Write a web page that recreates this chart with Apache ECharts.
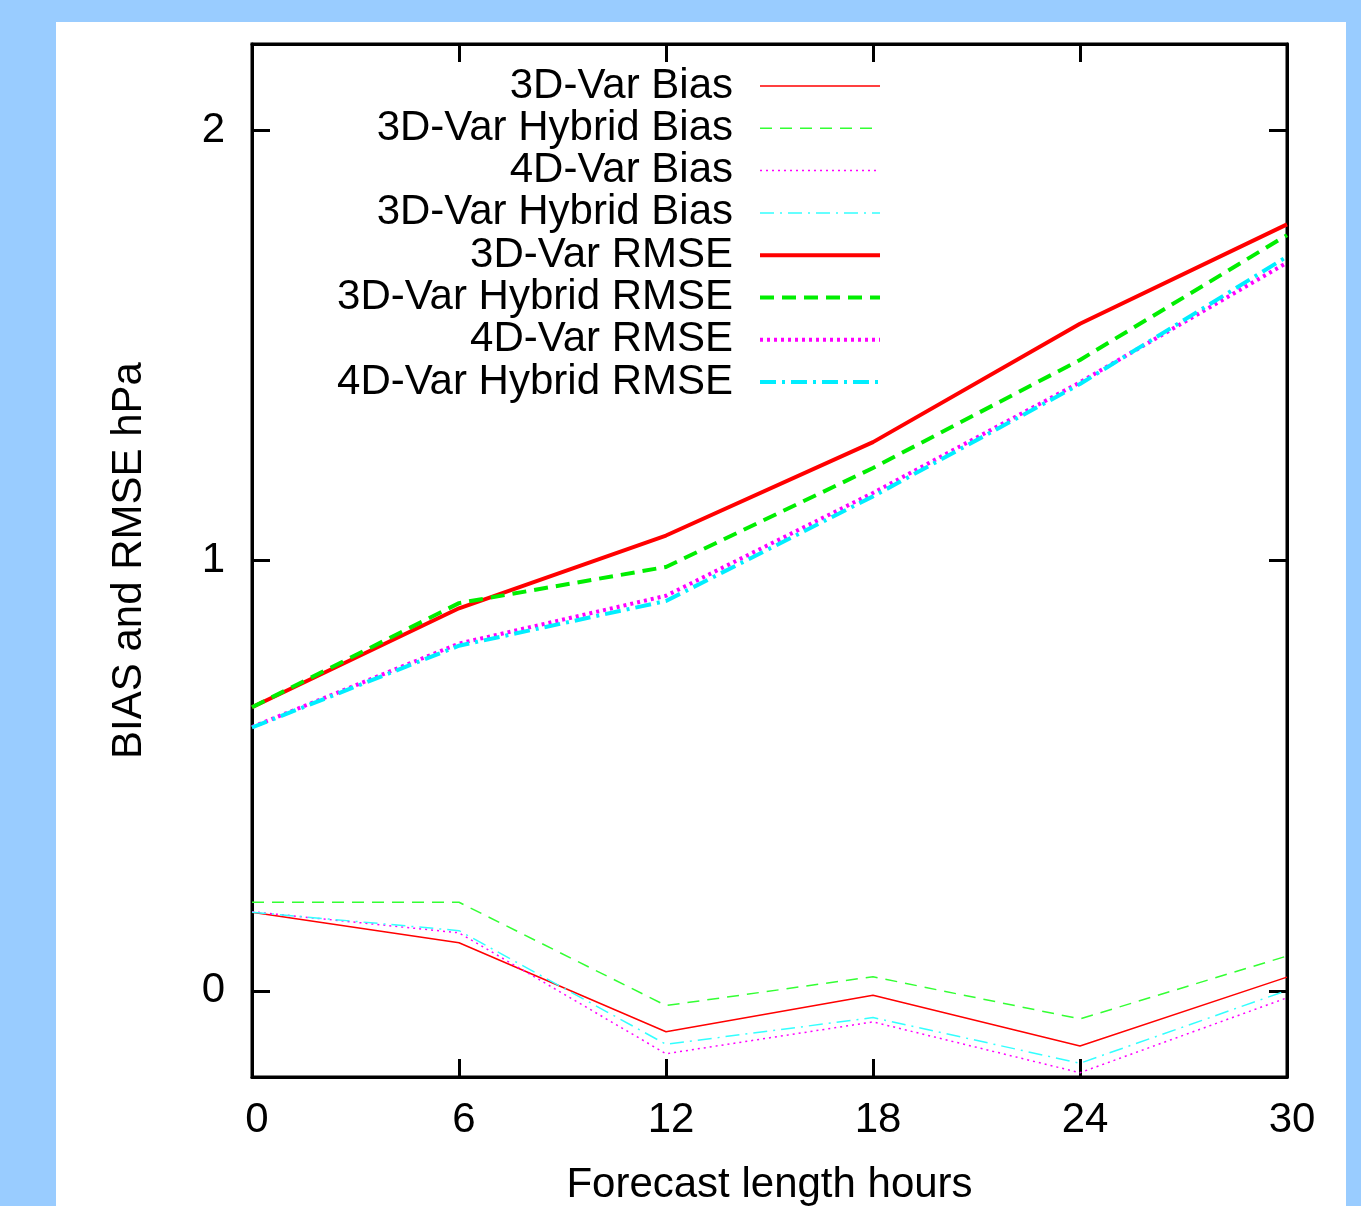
<!DOCTYPE html>
<html>
<head>
<meta charset="utf-8">
<title>BIAS and RMSE by forecast length</title>
<script src="https://cdn.jsdelivr.net/npm/echarts@6/dist/echarts.min.js"></script>
<style>
  html, body { margin: 0; padding: 0; width: 1361px; height: 1206px; background: #99ccff; overflow: hidden; }
  #chart { position: absolute; left: 56px; top: 22px; width: 1290px; height: 1184px; background: #ffffff; }
</style>
</head>
<body>
<div id="chart"></div>
<script>
// Forecast lengths (hours)
const hours = [0, 6, 12, 18, 24, 30];

// Surface pressure bias (hPa)
const bias3dVar       = [0.183, 0.112, -0.095, -0.010, -0.128, 0.032];
const bias3dVarHybrid = [0.206, 0.206, -0.034, 0.033, -0.065, 0.081];
const bias4dVar       = [0.184, 0.135, -0.146, -0.072, -0.190, -0.016];
const bias4dVarHybrid = [0.183, 0.140, -0.124, -0.062, -0.168, 0.001];

// Surface pressure RMSE (hPa)
const rmse3dVar       = [0.659, 0.889, 1.058, 1.275, 1.550, 1.781];
const rmse3dVarHybrid = [0.659, 0.901, 0.985, 1.215, 1.466, 1.756];
const rmse4dVar       = [0.613, 0.807, 0.918, 1.157, 1.414, 1.692];
const rmse4dVarHybrid = [0.612, 0.802, 0.906, 1.149, 1.410, 1.706];

// Axis ticks
const xTicks = [0, 6, 12, 18, 24, 30];
const yTicks = [0, 1, 2];

// Legend labels (the fourth entry carries a zero-width space so it stays a separate legend item)
const names = [
  '3D-Var Bias',
  '3D-Var Hybrid Bias',
  '4D-Var Bias',
  '3D-Var Hybrid Bias\u200B',
  '3D-Var RMSE',
  '3D-Var Hybrid RMSE',
  '4D-Var RMSE',
  '4D-Var Hybrid RMSE'
];

const values = [
  bias3dVar, bias3dVarHybrid, bias4dVar, bias4dVarHybrid,
  rmse3dVar, rmse3dVarHybrid, rmse4dVar, rmse4dVarHybrid
];

const FONT = 'Liberation Sans, Arial, sans-serif';

const styles = [
  { color: '#ff0000', width: 1.5, type: 'solid' },
  { color: '#33ff33', width: 1.5, type: [12, 8] },
  { color: '#ff00ff', width: 1.5, type: [2, 4] },
  { color: '#33ffff', width: 1.5, type: [14, 6, 2, 6] },
  { color: '#ff0000', width: 4, type: 'solid' },
  { color: '#00ee00', width: 4, type: [14, 8] },
  { color: '#ff00ff', width: 4, type: [3, 4] },
  { color: '#00eeff', width: 4, type: [16, 6, 3, 6] }
];

const series = names.map((name, i) => ({
  name: name,
  type: 'line',
  xAxisIndex: 0,
  yAxisIndex: 0,
  symbol: 'none',
  showSymbol: false,
  animation: false,
  data: hours.map((h, k) => [h, values[i][k]]),
  itemStyle: { color: styles[i].color },
  lineStyle: { color: styles[i].color, width: styles[i].width, type: styles[i].type }
}));

const chart = echarts.init(document.getElementById('chart'), null, { renderer: 'canvas' });

const axisLine = { show: true, onZero: false, lineStyle: { color: '#000', width: 3 } };
const tickStyle = { color: '#000', width: 3 };

chart.setOption({
  animation: false,
  backgroundColor: '#ffffff',
  textStyle: { fontFamily: FONT, color: '#000' },
  grid: {
    left: 196, right: 59, top: 22, bottom: 129,
    outerBoundsMode: 'none',
    containLabel: false,
    show: true, borderColor: '#000', borderWidth: 3, backgroundColor: 'transparent'
  },
  legend: {
    orient: 'vertical',
    left: 277,
    top: 43,
    padding: 0,
    itemGap: 0.3,
    align: 'right',
    itemWidth: 120,
    itemHeight: 14,
    data: names,
    itemStyle: { opacity: 0 },
    lineStyle: { width: 'inherit' },
    formatter: '{n|{name}}',
    textStyle: {
      fontFamily: FONT,
      color: '#000',
      rich: {
        n: { fontFamily: FONT, fontSize: 42, lineHeight: 42, width: 400, align: 'right', padding: [0, 22, 0, 0], color: '#000' }
      }
    }
  },
  xAxis: [
    {
      type: 'value', position: 'bottom', min: 0, max: 30, interval: 6,
      name: 'Forecast length hours', nameLocation: 'middle', nameGap: 87,
      nameTextStyle: { fontFamily: FONT, fontSize: 42, color: '#000' },
      axisLine: axisLine,
      axisTick: { show: true, inside: true, length: 18, lineStyle: tickStyle, customValues: xTicks },
      axisLabel: { fontFamily: FONT, fontSize: 42, color: '#000', margin: 22, padding: [0, 0, 0, 10], customValues: xTicks },
      splitLine: { show: false }
    },
    {
      type: 'value', position: 'top', min: 0, max: 30, interval: 6,
      axisLine: axisLine,
      axisTick: { show: true, inside: true, length: 18, lineStyle: tickStyle, customValues: xTicks },
      axisLabel: { show: false },
      splitLine: { show: false }
    }
  ],
  yAxis: [
    {
      type: 'value', position: 'left', min: -0.2, max: 2.2,
      name: 'BIAS and RMSE hPa', nameLocation: 'middle', nameGap: 102,
      nameTextStyle: { fontFamily: FONT, fontSize: 42, color: '#000' },
      axisLine: axisLine,
      axisTick: { show: true, inside: true, length: 18, lineStyle: tickStyle, customValues: yTicks },
      axisLabel: { fontFamily: FONT, fontSize: 42, color: '#000', margin: 27, customValues: yTicks },
      splitLine: { show: false }
    },
    {
      type: 'value', position: 'right', min: -0.2, max: 2.2,
      axisLine: axisLine,
      axisTick: { show: true, inside: true, length: 18, lineStyle: tickStyle, customValues: yTicks },
      axisLabel: { show: false },
      splitLine: { show: false }
    }
  ],
  series: series
});
</script>
</body>
</html>
